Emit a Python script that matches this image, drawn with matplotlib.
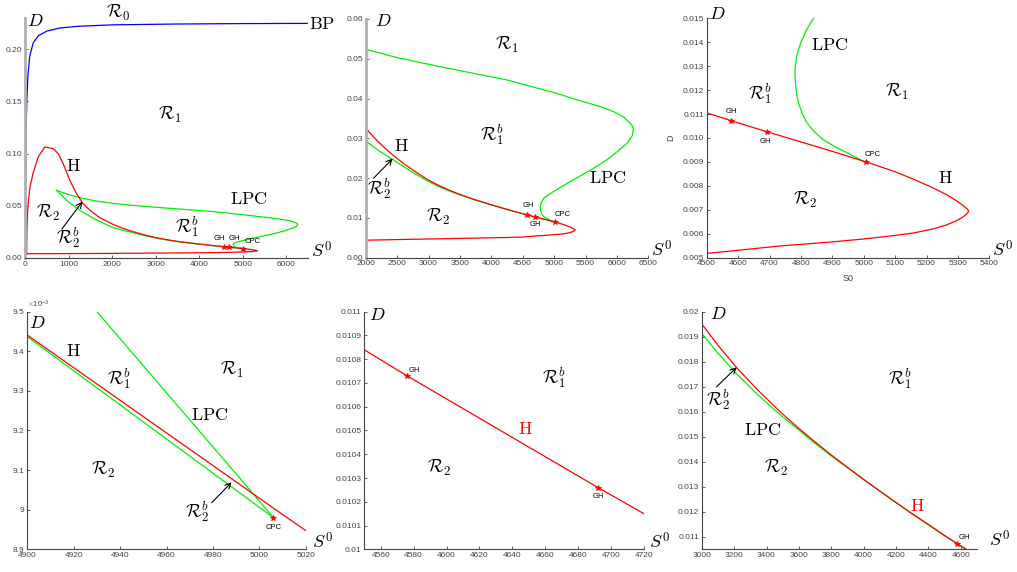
import matplotlib
matplotlib.use('Agg')
import matplotlib.pyplot as plt
from matplotlib.ticker import FuncFormatter

plt.rcParams['mathtext.fontset'] = 'cm'
plt.rcParams['font.family'] = ['Liberation Sans', 'DejaVu Sans']

# ---- curves (S0, D) ----
# BP curve (blue)
bp_S = [0, 2, 5, 9, 13, 20, 34, 60, 100, 180, 300, 500, 800, 1200, 2000, 3500, 5000, 6500]
bp_D = [0, 0.02, 0.05, 0.075, 0.1, 0.125, 0.15, 0.175, 0.193, 0.206, 0.213, 0.2175,
        0.2204, 0.222, 0.2234, 0.2242, 0.2246, 0.2248]

# Hopf curve H (red): left rise, peak, upper branch, nose, lower branch
h_S = [40, 31, 33, 38, 50, 70, 107, 183, 298, 450, 641, 756, 870, 1023, 1176, 1328, 1500,
       1710, 2000, 2200, 2400, 2600, 2800, 3000, 3100, 3216, 3350, 3484, 3600, 3689, 3800,
       3900, 4000, 4100, 4200, 4300, 4400, 4500, 4576, 4692, 4800, 4900, 5007, 5020, 5100,
       5158, 5220, 5264, 5300, 5320, 5330, 5334, 5330, 5317, 5295, 5264, 5220, 5158, 5080,
       4999, 4900, 4734, 4600, 4500, 4250, 4000, 3000, 2000, 1000, 400, 100, 40]
h_D = [0.0041, 0.006, 0.015, 0.028, 0.042, 0.055, 0.068, 0.082, 0.097, 0.1064, 0.1048, 0.1,
       0.0904, 0.0744, 0.0617, 0.052, 0.0452, 0.0386, 0.0325, 0.0291, 0.0262, 0.0237, 0.0215,
       0.01951, 0.01866, 0.01776, 0.01684, 0.01600, 0.01533, 0.01485, 0.01427, 0.01378,
       0.01329, 0.01283, 0.01237, 0.01192, 0.01149, 0.01105, 0.01073, 0.01026, 0.009835,
       0.009441, 0.009000, 0.008947, 0.00859, 0.00828, 0.00792, 0.00763, 0.00734, 0.00714,
       0.00703, 0.00695, 0.00685, 0.00671, 0.00654, 0.00637, 0.00620, 0.00603, 0.00590,
       0.00578, 0.00566, 0.00549, 0.00531, 0.00518, 0.00508, 0.0050, 0.0047, 0.0044, 0.0042,
       0.0041, 0.0041, 0.0041]

# LPC curve (green): upper branch from cusp round the nose to CPC
lpc_up_S = [718, 850, 1000, 1250, 1600, 2000, 2500, 3184, 4245, 5041, 5400, 5731, 5950, 6103,
            6200, 6250, 6262, 6240, 6156, 6000, 5838, 5600, 5400, 5307, 5200, 5050, 4950,
            4890, 4840, 4817, 4800, 4788, 4782, 4781, 4782, 4784, 4788, 4794, 4805, 4818,
            4845, 4872, 4900, 4930, 4960, 4990, 5006]
lpc_up_D = [0.0649, 0.0628, 0.0607, 0.0578, 0.0548, 0.0524, 0.0503, 0.048, 0.0447, 0.0413,
            0.0395, 0.038, 0.0367, 0.0354, 0.0340, 0.0330, 0.0321, 0.0305, 0.0287, 0.0266,
            0.0246, 0.0222, 0.0204, 0.0196, 0.0186, 0.0172, 0.0162, 0.0156, 0.0150, 0.0145,
            0.0140, 0.0135, 0.0130, 0.0127, 0.0124, 0.0121, 0.0117, 0.0114, 0.0110, 0.01065,
            0.01023, 0.00992, 0.00970, 0.00950, 0.009295, 0.00909, 0.00898]
# LPC lower branch from cusp along H to CPC
lpc_low_S = [718, 800, 947, 1100, 1252, 1500, 1710, 2000, 2200, 2440, 2700, 2800, 3000, 3100,
             3216, 3350, 3484, 3600, 3689, 3800, 3900, 4100, 4300, 4500, 4700, 4900, 5006]
lpc_low_D = [0.0649, 0.0615, 0.0553, 0.0502, 0.0457, 0.0395, 0.035, 0.0293, 0.0270, 0.0246,
             0.0219, 0.02095, 0.01913, 0.01834, 0.01751, 0.01666, 0.01588, 0.01527, 0.01479,
             0.01423, 0.01376, 0.01282, 0.01191, 0.01104, 0.010222, 0.009437, 0.00898]

gh_S = [4576, 4692]
gh_D = [0.01073, 0.01026]
cpc_S = [5006]
cpc_D = [0.00898]

RED = '#ff0000'
GREEN = '#00ee00'
BLUE = '#0000ff'
LW = 0.9
BIG = 13

fig = plt.figure(figsize=(10.17, 5.72), dpi=100)


def style(ax, xlim, ylim, xticks, yticks, left_light=False):
    ax.set_xlim(*xlim)
    ax.set_ylim(*ylim)
    ax.set_xticks(xticks)
    ax.set_yticks(yticks)
    for s in ['top', 'right']:
        ax.spines[s].set_visible(False)
    ax.spines['bottom'].set_color('#444444')
    ax.spines['bottom'].set_linewidth(0.8)
    if left_light:
        ax.spines['left'].set_color('#b0b0b0')
        ax.spines['left'].set_linewidth(2.0)
    else:
        ax.spines['left'].set_color('#444444')
        ax.spines['left'].set_linewidth(0.8)
    ax.tick_params(direction='in', length=2.5, width=0.6, labelsize=6,
                   colors='#444444', pad=2)


def txt(ax, x, y, s, size=BIG, color='k', ha='center', va='center'):
    ax.text(x, y, s, transform=ax.transAxes, fontsize=size, color=color,
            ha=ha, va=va, clip_on=False)


def arrow(ax, tail, tip):
    ax.annotate('', xy=tip, xytext=tail, xycoords='axes fraction',
                textcoords='axes fraction',
                arrowprops=dict(arrowstyle='->', color='k', lw=0.8,
                                shrinkA=0, shrinkB=0))


def points(ax, which):
    if 'gh' in which:
        ax.plot(gh_S, gh_D, '*', color=RED, ms=4, mew=0.6)
    if 'cpc' in which:
        ax.plot(cpc_S, cpc_D, '*', color=RED, ms=4, mew=0.6)


# ---- panel 1 ----
ax1 = fig.add_axes([0.0249, 0.549, 0.278, 0.4196])
ax1.plot(bp_S, bp_D, color=BLUE, lw=LW)
ax1.plot(lpc_low_S, lpc_low_D, color=GREEN, lw=LW)
ax1.plot(lpc_up_S, lpc_up_D, color=GREEN, lw=LW)
ax1.plot(h_S, h_D, color=RED, lw=LW)
points(ax1, ['gh', 'cpc'])
style(ax1, (0, 6500), (0, 0.23), range(0, 6001, 1000), [0, 0.05, 0.1, 0.15, 0.2],
      left_light=True)
txt(ax1, 0.034, 0.985, r'$D$')
txt(ax1, 0.329, 1.02, r'$\mathcal{R}_0$')
txt(ax1, 1.048, 0.971, r'$\mathrm{BP}$')
txt(ax1, 0.512, 0.596, r'$\mathcal{R}_1$')
txt(ax1, 0.17, 0.38, r'$\mathrm{H}$')
txt(ax1, 0.789, 0.242, r'$\mathrm{LPC}$')
txt(ax1, 0.081, 0.186, r'$\mathcal{R}_2$')
txt(ax1, 0.571, 0.13, r'$\mathcal{R}_1^b$')
txt(ax1, 0.152, 0.085, r'$\mathcal{R}_2^b$')
txt(ax1, 1.048, 0.03, r'$S^0$')
txt(ax1, 0.686, 0.08, 'GH', size=5.5)
txt(ax1, 0.739, 0.083, 'GH', size=5.5)
txt(ax1, 0.803, 0.07, 'CPC', size=5.5)
arrow(ax1, (0.129, 0.12), (0.202, 0.235))

# ---- panel 2 ----
ax2 = fig.add_axes([0.3596, 0.5495, 0.2779, 0.4173])
ax2.plot(lpc_low_S, lpc_low_D, color=GREEN, lw=LW)
ax2.plot(lpc_up_S, lpc_up_D, color=GREEN, lw=LW)
ax2.plot(h_S, h_D, color=RED, lw=LW)
points(ax2, ['gh', 'cpc'])
style(ax2, (2000, 6500), (0, 0.06), range(2000, 6501, 500),
      [0, 0.01, 0.02, 0.03, 0.04, 0.05, 0.06], left_light=True)
txt(ax2, 0.062, 0.99, r'$D$')
txt(ax2, 0.499, 0.891, r'$\mathcal{R}_1$')
txt(ax2, 0.446, 0.514, r'$\mathcal{R}_1^b$')
txt(ax2, 0.127, 0.465, r'$\mathrm{H}$')
txt(ax2, 0.048, 0.29, r'$\mathcal{R}_2^b$')
txt(ax2, 0.257, 0.172, r'$\mathcal{R}_2$')
txt(ax2, 0.858, 0.333, r'$\mathrm{LPC}$')
txt(ax2, 0.575, 0.217, 'GH', size=5.5)
txt(ax2, 0.601, 0.141, 'GH', size=5.5)
txt(ax2, 0.697, 0.179, 'CPC', size=5.5)
txt(ax2, 1.046, 0.03, r'$S^0$')
arrow(ax2, (0.027, 0.332), (0.0955, 0.415))

# ---- panel 3 ----
ax3 = fig.add_axes([0.6949, 0.5495, 0.2779, 0.4185])
ax3.plot(lpc_up_S, lpc_up_D, color=GREEN, lw=LW)
ax3.plot(h_S, h_D, color=RED, lw=LW)
points(ax3, ['gh', 'cpc'])
style(ax3, (4500, 5400), (0.005, 0.015), range(4500, 5401, 100),
      [0.005 + 0.001 * i for i in range(11)])
ax3.yaxis.set_major_formatter(FuncFormatter(lambda v, _: f'{v:.3f}'))
ax3.set_xlabel('S0', fontsize=6.5, color='#444444', labelpad=5)
ax3.set_ylabel('D', fontsize=6.5, color='#444444', labelpad=5)
txt(ax3, 0.039, 1.015, r'$D$')
txt(ax3, 0.436, 0.888, r'$\mathrm{LPC}$')
txt(ax3, 0.189, 0.687, r'$\mathcal{R}_1^b$')
txt(ax3, 0.672, 0.693, r'$\mathcal{R}_1$')
txt(ax3, 0.088, 0.61, 'GH', size=5.5)
txt(ax3, 0.209, 0.485, 'GH', size=5.5)
txt(ax3, 0.587, 0.432, 'CPC', size=5.5)
txt(ax3, 0.846, 0.332, r'$\mathrm{H}$')
txt(ax3, 0.348, 0.241, r'$\mathcal{R}_2$')
txt(ax3, 1.047, 0.03, r'$S^0$')

# ---- panel 4 ----
ax4 = fig.add_axes([0.0268, 0.0397, 0.274, 0.4154])
ax4.plot(lpc_low_S, lpc_low_D, color=GREEN, lw=LW)
ax4.plot(lpc_up_S, lpc_up_D, color=GREEN, lw=LW)
ax4.plot(h_S, h_D, color=RED, lw=LW)
points(ax4, ['cpc'])
style(ax4, (4900, 5020), (0.0089, 0.0095), range(4900, 5021, 20),
      [0.0089 + 0.0001 * i for i in range(7)])
ax4.yaxis.set_major_formatter(FuncFormatter(lambda v, _: f'{v * 1e3:g}'))
txt(ax4, 0.0, 1.03, r'$\times\mathregular{10^{-3}}$', size=5.5, color='#444444', ha='left')
txt(ax4, 0.036, 0.951, r'$D$')
txt(ax4, 0.165, 0.832, r'$\mathrm{H}$')
txt(ax4, 0.327, 0.72, r'$\mathcal{R}_1^b$')
txt(ax4, 0.733, 0.755, r'$\mathcal{R}_1$')
txt(ax4, 0.655, 0.565, r'$\mathrm{LPC}$')
txt(ax4, 0.273, 0.334, r'$\mathcal{R}_2$')
txt(ax4, 0.608, 0.158, r'$\mathcal{R}_2^b$')
txt(ax4, 0.885, 0.093, 'CPC', size=5.5)
txt(ax4, 1.06, 0.03, r'$S^0$')
arrow(ax4, (0.662, 0.196), (0.733, 0.282))

# ---- panel 5 ----
ax5 = fig.add_axes([0.3582, 0.0397, 0.275, 0.4154])
ax5.plot(h_S, h_D, color=RED, lw=LW)
points(ax5, ['gh'])
style(ax5, (4550, 4720), (0.01, 0.011), range(4560, 4721, 20),
      [0.01 + 0.0001 * i for i in range(11)])
ax5.yaxis.set_major_formatter(FuncFormatter(lambda v, _: f'{v:.4f}'.rstrip('0')))
txt(ax5, 0.046, 0.986, r'$D$')
txt(ax5, 0.178, 0.751, 'GH', size=5.5)
txt(ax5, 0.676, 0.723, r'$\mathcal{R}_1^b$')
txt(ax5, 0.575, 0.505, r'$\mathrm{H}$', color=RED)
txt(ax5, 0.268, 0.341, r'$\mathcal{R}_2$')
txt(ax5, 0.837, 0.224, 'GH', size=5.5)
txt(ax5, 1.054, 0.03, r'$S^0$')

# ---- panel 6 ----
ax6 = fig.add_axes([0.69, 0.0397, 0.2707, 0.4154])
ax6.plot(lpc_low_S, lpc_low_D, color=GREEN, lw=LW)
ax6.plot(h_S, h_D, color=RED, lw=LW)
points(ax6, ['gh'])
style(ax6, (3000, 4700), (0.0105, 0.02), range(3000, 4601, 200),
      [0.011 + 0.001 * i for i in range(10)])
ax6.yaxis.set_major_formatter(FuncFormatter(lambda v, _: f'{v:.3f}'.rstrip('0')))
txt(ax6, 0.06, 0.99, r'$D$')
txt(ax6, 0.06, 0.628, r'$\mathcal{R}_2^b$')
txt(ax6, 0.22, 0.502, r'$\mathrm{LPC}$')
txt(ax6, 0.27, 0.341, r'$\mathcal{R}_2$')
txt(ax6, 0.72, 0.72, r'$\mathcal{R}_1^b$')
txt(ax6, 0.785, 0.182, r'$\mathrm{H}$', color=RED)
txt(ax6, 0.955, 0.05, 'GH', size=5.5)
txt(ax6, 1.08, 0.04, r'$S^0$')
arrow(ax6, (0.054, 0.684), (0.127, 0.766))

fig.savefig('out.png', dpi=100)
